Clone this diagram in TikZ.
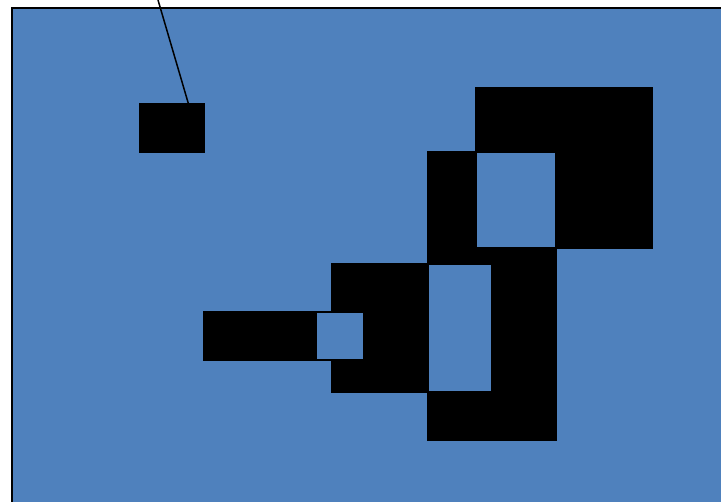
\documentclass[tikz,border=0pt]{standalone}
\definecolor{offblue}{HTML}{4F81BD}
\begin{document}
\begin{tikzpicture}[x=1pt,y=-1pt,
  blk/.style={fill=black,draw=none},
  blu/.style={fill=offblue,draw=none}]
\useasboundingbox (0,0) rectangle (721,502);
\begin{scope}
\clip (0,0) rectangle (721,502);
\draw[line width=2pt,fill=offblue] (12,8) rectangle (740,520);
\end{scope}
% right assembly
\fill[blk] (427,151) rectangle (557,441);
\fill[blu] (429,265) rectangle (491,391);
\fill[blk] (475,87) rectangle (653,249);
\fill[blu] (477,153) rectangle (555,247);
% left assembly
\fill[blk] (331,263) rectangle (429,393);
\fill[blk] (203,311) rectangle (331,361);
\fill[blu] (317,313) rectangle (363,359);
% small box and line
\node[blk,minimum width=66pt,minimum height=50pt,inner sep=0pt,anchor=north west] (box) at (139,103) {};
\coordinate (top) at (158,0);
\coordinate (tip) at ([xshift=16pt]box.north);
\draw[line width=1.5pt] (top) -- (tip);
\end{tikzpicture}
\end{document}
